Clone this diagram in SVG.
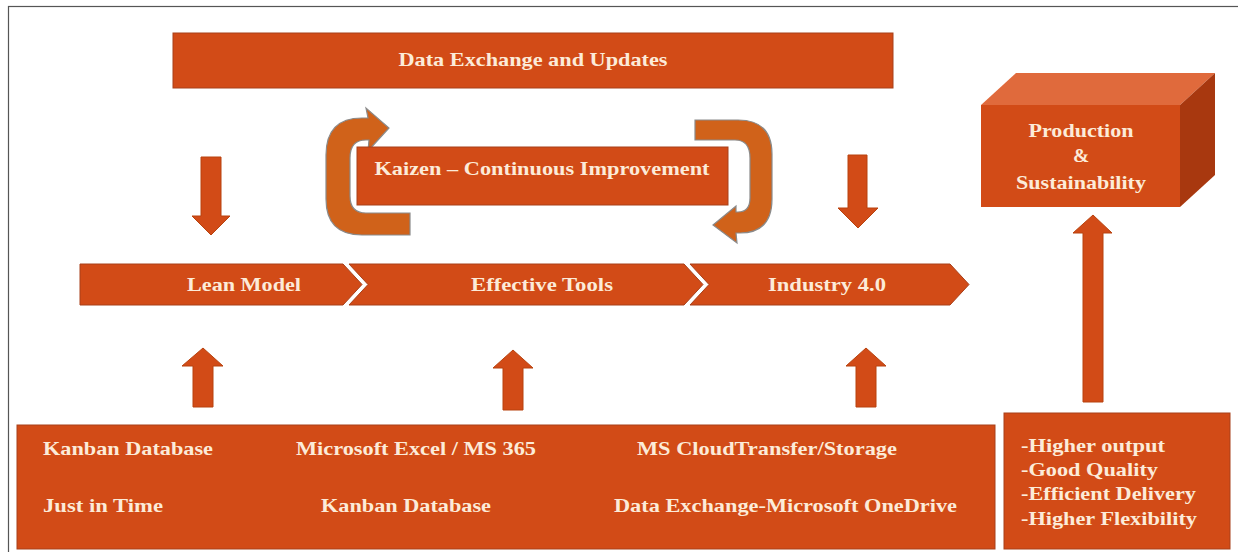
<svg xmlns="http://www.w3.org/2000/svg" width="1238" height="552" viewBox="0 0 1238 552">
<style>
.box{fill:#D24B17;stroke:#A8401A;stroke-width:1}
.arr{fill:#D24B17;stroke:#B8430F;stroke-width:1}
.curl{fill:#D0621A;stroke:#8A8A8A;stroke-width:1.2}
.t{font-family:"Liberation Serif","Times New Roman",serif;font-weight:bold;font-size:19.5px;fill:#FCEBD9}
.c{text-anchor:middle}
</style>
<rect x="8.5" y="6.5" width="1250" height="570" fill="#FFFFFF" stroke="#555555" stroke-width="1.2"/>

<g id="data-exchange">
<rect class="box" x="173" y="33" width="720" height="55"/>
<text class="t c" x="533" y="66" textLength="269" lengthAdjust="spacingAndGlyphs">Data Exchange and Updates</text>
</g>

<g id="kaizen">
<path class="curl" d="M410,213 L410,235 L362,235 Q326,235 326,199 L326,155 Q326,118 362,118 L368,118 L366,108 L389,128 L368,151 L369,140 L366,140 Q350,140 350,158 L350,196 Q350,213 366,213 Z"/>
<path class="curl" stroke="#C05A18" d="M695,120 L738,120 Q772,120 772,154 L772,199 Q772,233 740,233 L736,233 L737,243 L713,225 L736,206 L736,212 L738,212 Q750,212 750,198 L750,158 Q750,140 735,140 L695,140 Z"/>
<rect class="box" x="357" y="147" width="371" height="58"/>
<text class="t c" x="542" y="175" textLength="335" lengthAdjust="spacingAndGlyphs">Kaizen – Continuous Improvement</text>
</g>

<g id="lean-model">
<polygon class="box" stroke="none" points="80,264 343,264 362,284.5 343,305 80,305"/>
<text class="t c" x="244" y="291" textLength="114" lengthAdjust="spacingAndGlyphs">Lean Model</text>
</g>
<g id="effective-tools">
<polygon class="box" stroke="none" points="349,264 684,264 703,284.5 684,305 349,305 368,284.5"/>
<text class="t c" x="542" y="291" textLength="142" lengthAdjust="spacingAndGlyphs">Effective Tools</text>
</g>
<g id="industry-4">
<polygon class="box" stroke="none" points="690,264 950,264 969,284.5 950,305 690,305 709,284.5"/>
<text class="t c" x="827" y="291" textLength="118" lengthAdjust="spacingAndGlyphs">Industry 4.0</text>
</g>

<g id="production">
<polygon points="981,105 1016,73 1215,73 1180,105" fill="#E06A3C"/>
<polygon points="1180,105 1215,73 1215,175 1180,207" fill="#A8380F"/>
<rect x="981" y="105" width="199" height="102" fill="#D24B17"/>
<text class="t c" x="1081" y="137" textLength="105" lengthAdjust="spacingAndGlyphs">Production</text>
<text class="t c" x="1081" y="162">&amp;</text>
<text class="t c" x="1081" y="189" textLength="130" lengthAdjust="spacingAndGlyphs">Sustainability</text>
</g>

<g id="tools-box">
<rect class="box" x="17" y="425" width="978" height="124"/>
<text class="t" x="43" y="455" textLength="170" lengthAdjust="spacingAndGlyphs">Kanban Database</text>
<text class="t" x="296" y="455" textLength="240" lengthAdjust="spacingAndGlyphs">Microsoft Excel / MS 365</text>
<text class="t" x="637" y="455" textLength="260" lengthAdjust="spacingAndGlyphs">MS CloudTransfer/Storage</text>
<text class="t" x="43" y="512" textLength="120" lengthAdjust="spacingAndGlyphs">Just in Time</text>
<text class="t" x="321" y="512" textLength="170" lengthAdjust="spacingAndGlyphs">Kanban Database</text>
<text class="t" x="614" y="512" textLength="343" lengthAdjust="spacingAndGlyphs">Data Exchange-Microsoft OneDrive</text>
</g>

<g id="benefits">
<rect class="box" x="1004" y="413" width="226" height="136"/>
<text class="t" x="1021" y="452" textLength="144" lengthAdjust="spacingAndGlyphs">-Higher output</text>
<text class="t" x="1021" y="476" textLength="137" lengthAdjust="spacingAndGlyphs">-Good Quality</text>
<text class="t" x="1021" y="500" textLength="175" lengthAdjust="spacingAndGlyphs">-Efficient Delivery</text>
<text class="t" x="1021" y="525" textLength="176" lengthAdjust="spacingAndGlyphs">-Higher Flexibility</text>
</g>

<g id="connectors">
<polygon class="arr" points="201,157 221,157 221,216 230,216 211,235 192,216 201,216"/>
<polygon class="arr" points="848,155 867,155 867,208 878,208 858,228 838,208 848,208"/>
<polygon class="arr" points="203,348 223,366 213,366 213,407 193,407 193,366 182,366"/>
<polygon class="arr" points="513,350 533,368 523,368 523,410 503,410 503,368 493,368"/>
<polygon class="arr" points="866,348 886,366 876,366 876,407 856,407 856,366 846,366"/>
<polygon class="arr" points="1093,215 1112,233 1103,233 1103,402 1083,402 1083,233 1073,233"/>
</g>
</svg>
